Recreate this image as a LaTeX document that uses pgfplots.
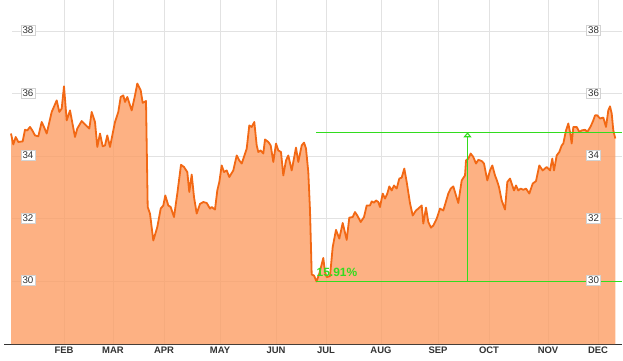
\documentclass[border=0pt]{standalone}
\usepackage{pgfplots}
\pgfplotsset{compat=1.18}
\usepackage{pgfplotstable}
\usepackage{fontspec}
\setmainfont{Liberation Sans}
\usetikzlibrary{arrows.meta}
\definecolor{lineor}{RGB}{242,104,20}
\definecolor{fillor}{RGB}{252,158,100}
\definecolor{gridc}{RGB}{226,226,226}
\definecolor{grn}{RGB}{50,220,30}
\definecolor{txt}{RGB}{51,51,51}
\pgfplotstableread{
x v
11 34.73
13.3 34.38
15.7 34.62
18.3 34.46
22.7 34.48
25 34.85
27.3 34.83
30 34.94
32.3 34.83
35 34.67
38.3 34.64
41.7 35.10
44 34.94
46.7 34.73
51.7 35.42
56.7 35.79
59.3 35.42
61.7 35.53
64 36.24
66.7 35.15
70 35.47
75 34.62
77.3 34.89
81.7 35.13
86 34.99
89.3 34.89
91.7 35.42
95 35.10
97.3 34.30
100 34.73
102.7 34.32
105 34.35
107.3 34.67
110 34.30
115 35.10
118.3 35.42
120.7 35.90
123.3 35.95
125 35.74
127.3 35.90
131.7 35.47
135 35.95
137.3 36.33
140.7 36.11
142.7 35.71
146 35.77
147.7 32.38
150 32.17
153.3 31.31
157.3 31.74
160.7 32.33
163.3 32.43
165.3 32.75
168.3 32.43
170.7 32.38
174 32.06
177.3 32.81
181 33.73
184 33.66
187.3 33.50
189.3 32.86
191.7 33.42
194 32.70
196.7 32.17
200 32.48
203.3 32.54
206.7 32.51
210 32.33
211.7 32.38
215 32.30
217.3 32.91
219.3 33.18
221.7 33.71
224 33.50
226.7 33.55
229.3 33.34
233.3 33.55
236.7 34.03
239.3 33.87
241.7 33.77
246.7 34.25
249.3 34.99
251.7 34.94
254.3 35.10
256.7 34.35
258.3 34.14
260.7 34.19
263.3 34.09
265 34.54
268.3 34.46
270.7 34.35
273.3 33.82
276 34.41
278.3 34.19
281 34.14
283.3 33.39
286 33.87
288.3 34.03
291.7 33.55
296 34.28
298.3 33.82
301.7 34.35
304 34.44
306 34.25
308.3 33.50
310 32.27
311.7 30.22
314 30.19
316.5 30.00
319.3 30.25
323.3 30.75
325 30.30
326.7 30.14
330 30.17
332.7 31.10
336 31.65
339.3 31.37
342.7 31.87
346.7 31.33
349.3 32.04
352.7 32.06
355 32.22
357.3 32.11
360.7 31.90
364 32.06
366.7 32.43
370 32.43
371.7 32.56
374 32.52
376 32.59
378.3 32.54
380 32.38
382.7 32.81
385 32.65
387.3 32.81
389.3 33.04
391.7 32.91
394 33.07
396.7 32.97
399.3 33.29
401.7 33.32
404.3 33.61
406.7 33.18
410 32.50
412.7 32.11
416 32.27
418.3 32.33
421.7 32.43
423.3 31.85
426 32.36
428.3 31.90
431 31.72
433.3 31.79
436.7 32.01
440 32.33
443.3 32.27
448.3 32.81
450.7 32.97
453.3 33.04
456 32.75
458.3 32.51
461.7 33.23
465 33.39
466 33.87
468.3 33.93
470.7 34.09
473.3 33.98
476 33.77
478.3 33.89
481.7 33.85
484 33.77
487.3 33.23
490 33.55
492.3 33.71
495 33.39
496.7 33.25
499 33.02
501.7 32.59
505 32.30
507.3 33.18
510 33.29
514 32.91
516 33.07
518.3 32.91
520.7 32.97
523.3 32.93
526 32.97
529.3 32.81
532.7 33.13
536 33.21
539.3 33.71
542.7 33.55
546.7 33.66
550 33.55
552.3 33.93
554 33.55
556.7 34.03
559.3 34.14
561.7 34.35
563.3 34.41
566 34.83
568.3 35.05
570 34.78
571.7 34.41
573.3 34.94
576.7 34.94
579.3 34.78
581.7 34.83
585 34.85
587.3 34.78
590.7 34.96
593.3 35.15
595 35.31
597.3 35.31
600 35.21
603.3 35.24
606 34.94
608.3 35.47
610 35.60
611.7 35.37
613.3 34.83
615.3 34.57
}\pricedata
\begin{document}
\begin{tikzpicture}
\useasboundingbox (0,0) rectangle (623bp,361bp);
\begin{axis}[
  at={(4bp,17bp)}, anchor=south west,
  scale only axis, width=618bp, height=344bp,
  xmin=4, xmax=622, ymin=28, ymax=39,
  clip=false,
  axis x line*=bottom, axis y line=none,
  x axis line style={draw=txt, line width=0.9pt, -},
  xtick={64,113,164,220,276,326,381,438,489,548,598},
  xticklabels={FEB,MAR,APR,MAY,JUN,JUL,AUG,SEP,OCT,NOV,DEC},
  major tick length=0pt,
  xticklabel style={font=\fontsize{9.5}{11}\selectfont\bfseries, text=txt, yshift=1bp},
  xmajorgrids, grid style={draw=gridc, line width=0.9pt},
]
\pgfplotsinvokeforeach{30,32,34,36,38}{
  \draw[gridc, line width=0.9pt] (axis cs:12,#1) -- (axis cs:622,#1);
}
\addplot[draw=none, fill=fillor, fill opacity=0.8] table[x=x,y=v]{\pricedata} \closedcycle;
\addplot[lineor, line width=1.8bp, line join=round] table[x=x,y=v]{\pricedata};
% green measurement
\addplot[grn, line width=1.1bp] coordinates {(316,30.0) (622,30.0)};
\addplot[grn, line width=1.1bp] coordinates {(316,34.77) (622,34.77)};
\addplot[grn, line width=1.1bp, -{Triangle[open, length=5bp, width=8bp, line width=1.1bp]}] coordinates {(467.5,30.0) (467.5,34.77)};
\node[anchor=base west, text=grn, font=\fontsize{12}{14}\selectfont\bfseries, inner sep=0pt] at (axis cs:316.5,30.16) {15.91\%};
\pgfplotsinvokeforeach{30,32,34,36,38}{
  \node[fill=white, draw=gray!35, line width=0.4pt, inner sep=1.7bp, text=txt, font=\fontsize{9.8}{11}\selectfont] at (axis cs:28,#1+0.03) {#1};
  \node[fill=white, draw=gray!35, line width=0.4pt, inner sep=1.7bp, text=txt, font=\fontsize{9.8}{11}\selectfont] at (axis cs:593.5,#1+0.03) {#1};
}
\end{axis}
\end{tikzpicture}
\end{document}
